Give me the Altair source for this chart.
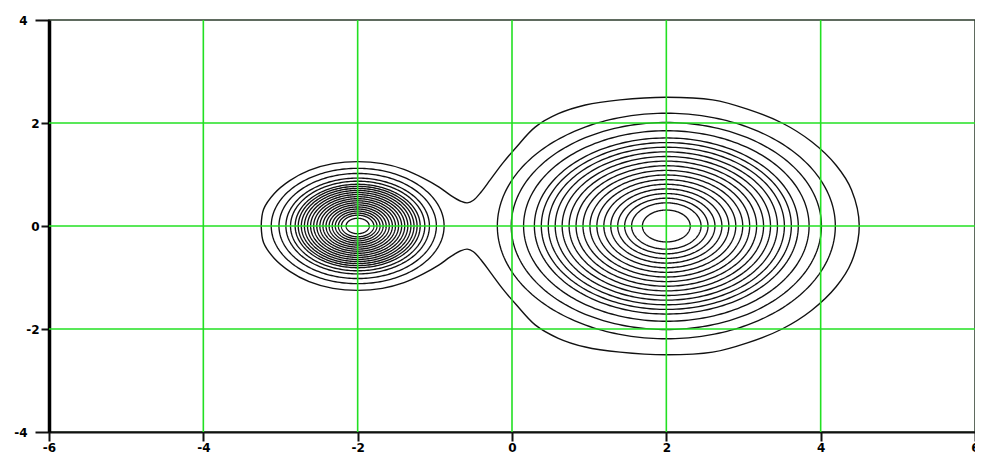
import altair as alt
import numpy as np
import pandas as pd

# ---- axis ticks / grid positions ----
x_ticks = [-6, -4, -2, 0, 2, 4, 6]
y_ticks = [-4, -2, 0, 2, 4]
grid_x = [-4, -2, 0, 2, 4]
grid_y = [-2, 0, 2]

# ---- contour rings (centre, radii in data units) ----
right_center = [2.0, 0.0]
right_radii = [0.31, 0.45, 0.54, 0.63, 0.72, 0.81, 0.90, 0.99, 1.08, 1.17,
               1.26, 1.35, 1.44, 1.53, 1.62, 1.71, 1.85, 2.01, 2.19]
left_center = [-2.0, 0.0]
left_radii = [0.15, 0.21, 0.25, 0.29, 0.33, 0.37, 0.41, 0.45, 0.49, 0.53,
              0.57, 0.61, 0.65, 0.69, 0.73, 0.77, 0.81, 0.87, 0.93, 1.02, 1.12]

# ---- outermost (pinched) contour, upper half ----
outer_x = [-3.25, -3.22, -3.08, -2.88, -2.63, -2.32, -2.0, -1.68, -1.40, -1.15,
           -0.95, -0.80, -0.66, -0.58, -0.50, -0.40, -0.28, -0.12, 0.05, 0.30,
           0.60, 0.95, 1.40, 2.00, 2.60, 3.05, 3.50, 3.88, 4.20, 4.40, 4.50]
outer_y = [0.00, 0.32, 0.63, 0.88, 1.08, 1.21, 1.25, 1.21, 1.10, 0.93,
           0.76, 0.60, 0.48, 0.45, 0.50, 0.66, 0.90, 1.22, 1.52, 1.92,
           2.18, 2.35, 2.45, 2.50, 2.45, 2.27, 2.00, 1.64, 1.18, 0.70, 0.00]

# ---- build tables ----
theta = np.linspace(0, 2 * np.pi, 241)
rows = []
ring_id = 0
for (cx, cy), radii in ((right_center, right_radii), (left_center, left_radii)):
    for r in radii:
        for k, t in enumerate(theta):
            rows.append({"x": cx + r * np.cos(t), "y": cy + r * np.sin(t),
                         "ring": ring_id, "o": k})
        ring_id += 1
rings = pd.DataFrame(rows)

ox = list(outer_x) + list(reversed(outer_x))[1:]
oy = list(outer_y) + [-v for v in reversed(outer_y)][1:]
outer = pd.DataFrame({"x": ox, "y": oy, "o": list(range(len(ox)))})

gx = pd.DataFrame({"gx": grid_x})
gy = pd.DataFrame({"gy": grid_y})

xs = alt.Scale(domain=[-6, 6], nice=False, zero=False)
ys = alt.Scale(domain=[-4, 4], nice=False, zero=False)

label_font = dict(labelFont="DejaVu Sans", labelFontWeight="bold",
                  labelFontSize=12, labelColor="black",
                  labelExpr="toString(datum.value)")

x_axis = alt.Axis(values=x_ticks, grid=False, title=None,
                  domainColor="#111", domainWidth=2, tickColor="#111",
                  tickWidth=2, tickSize=9, labelPadding=1,
                  labelFlush=False, labelOverlap=False, **label_font)
y_axis = alt.Axis(values=y_ticks, grid=False, title=None,
                  domainColor="#000", domainWidth=3.5, tickColor="#111",
                  tickWidth=2,
                  tickSize={"condition": {"test": "abs(datum.value) == 4", "value": 14}, "value": 8},
                  labelPadding={"condition": {"test": "abs(datum.value) == 4", "value": 8}, "value": 2},
                  labelFlush=False, labelOverlap=False, **label_font)

ring_layer = alt.Chart(rings).mark_line(color="#111", strokeWidth=1.35).encode(
    x=alt.X("x:Q", scale=xs, axis=x_axis),
    y=alt.Y("y:Q", scale=ys, axis=y_axis),
    detail="ring:N",
    order="o:Q",
)

outer_layer = alt.Chart(outer).mark_line(
    color="#111", strokeWidth=1.4, interpolate="catmull-rom"
).encode(
    x=alt.X("x:Q", scale=xs),
    y=alt.Y("y:Q", scale=ys),
    order="o:Q",
)

green = "#22e022"
vgrid = alt.Chart(gx).mark_rule(color=green, strokeWidth=1.6).encode(
    x=alt.X("gx:Q", scale=xs)
)
hgrid = alt.Chart(gy).mark_rule(color=green, strokeWidth=1.6).encode(
    y=alt.Y("gy:Q", scale=ys)
)

chart = alt.layer(ring_layer, outer_layer, vgrid, hgrid).properties(
    width=926, height=412,
    autosize=alt.AutoSizeParams(type="none"),
    padding={"left": 41, "top": 12, "right": 0, "bottom": 23},
    background="white",
).configure_view(stroke="#2b3b2b", strokeWidth=1.5)

chart.save("out.html", embed_options={"renderer": "svg", "actions": False})
